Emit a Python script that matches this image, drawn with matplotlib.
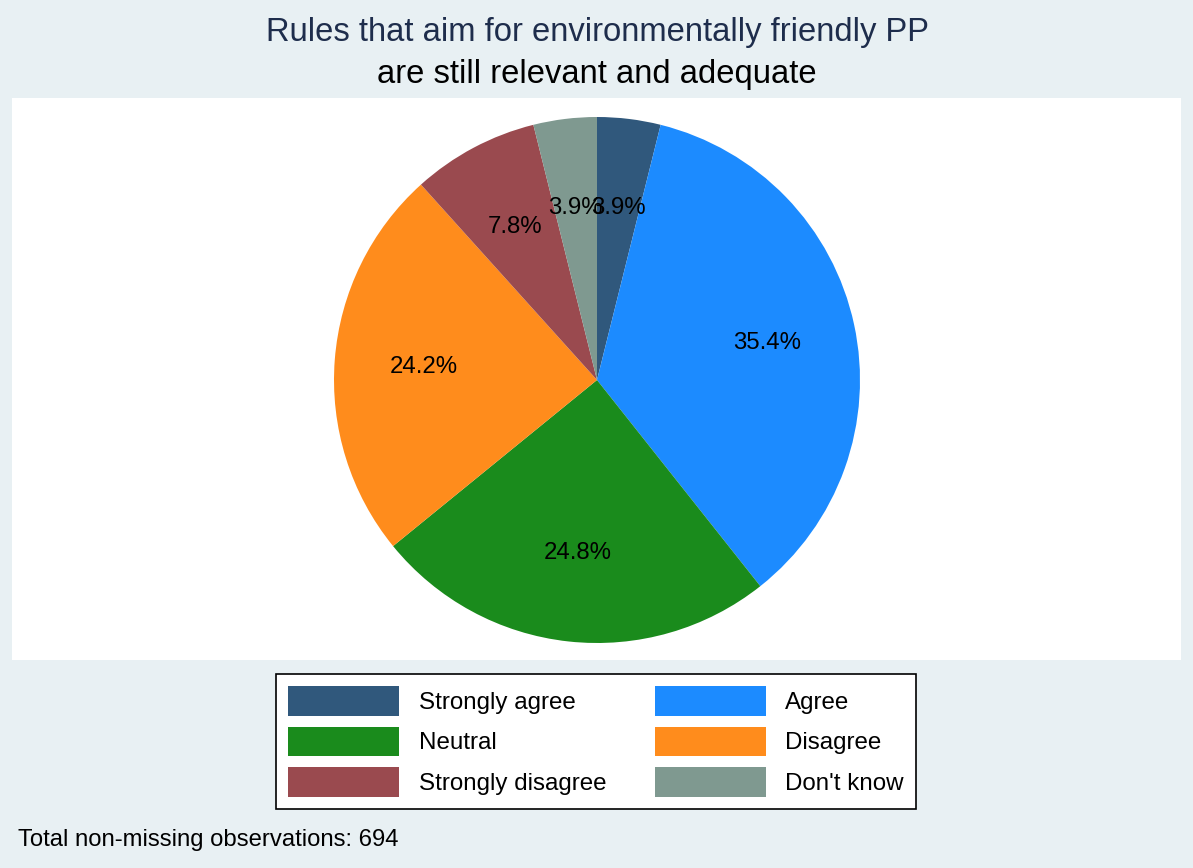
import matplotlib.pyplot as plt
from matplotlib.patches import Patch

plt.rcParams['font.family'] = ['Liberation Sans', 'DejaVu Sans']

# data
categories = ['Strongly agree', 'Agree', 'Neutral', 'Disagree',
              'Strongly disagree', "Don't know"]
counts = [27, 246, 172, 168, 54, 27]
colors = ['#30587c', '#1c8bff', '#1a8b1c', '#ff8c1c', '#9a4a4f', '#7f9990']
n_total = 694

W, H = 1193, 868
fig = plt.figure(figsize=(W / 100, H / 100), dpi=100)
fig.patch.set_facecolor('#e8f0f3')

# white plot region
bg = fig.add_axes([12 / W, 1 - 660 / H, (1181 - 12) / W, (660 - 98) / H])
bg.set_facecolor('white')
bg.set_xticks([])
bg.set_yticks([])
for s in bg.spines.values():
    s.set_visible(False)

# pie
cx, cy, r = 597, 380, 263
ax = fig.add_axes([(cx - r) / W, 1 - (cy + r) / H, 2 * r / W, 2 * r / H])
ax.pie(counts, colors=colors, startangle=90, counterclock=False,
       autopct='%1.1f%%', pctdistance=0.66,
       textprops={'fontsize': 17.3, 'color': 'black'},
       wedgeprops={'linewidth': 0})
ax.set_xlim(-1, 1)
ax.set_ylim(-1, 1)
ax.set_aspect('equal')
ax.axis('off')

# titles
fig.text(597 / W, 1 - 32 / H, 'Rules that aim for environmentally friendly PP',
         ha='center', va='center', fontsize=23.6, color='#1e2d4c')
fig.text(597 / W, 1 - 75 / H, 'are still relevant and adequate',
         ha='center', va='center', fontsize=23.6, color='black')

# legend (row-wise order like the original)
order = [0, 2, 4, 1, 3, 5]
handles = [Patch(facecolor=colors[i], edgecolor='none') for i in order]
labels = [categories[i] for i in order]
leg = fig.legend(handles, labels, ncol=2, loc='center',
                 bbox_to_anchor=(596 / W, 1 - 741.5 / H),
                 fontsize=17.4, frameon=True, fancybox=False, framealpha=1,
                 handlelength=4.6, handleheight=1.5, handletextpad=0.8,
                 columnspacing=2.0, labelspacing=0.45, borderpad=0.5)
leg.get_frame().set_edgecolor('black')
leg.get_frame().set_facecolor('white')
leg.get_frame().set_linewidth(1.2)

fig.text(18 / W, 1 - 840 / H, 'Total non-missing observations: %d' % n_total,
         ha='left', va='center', fontsize=17.2, color='black')

plt.savefig('out.png', dpi=100, facecolor=fig.get_facecolor())
